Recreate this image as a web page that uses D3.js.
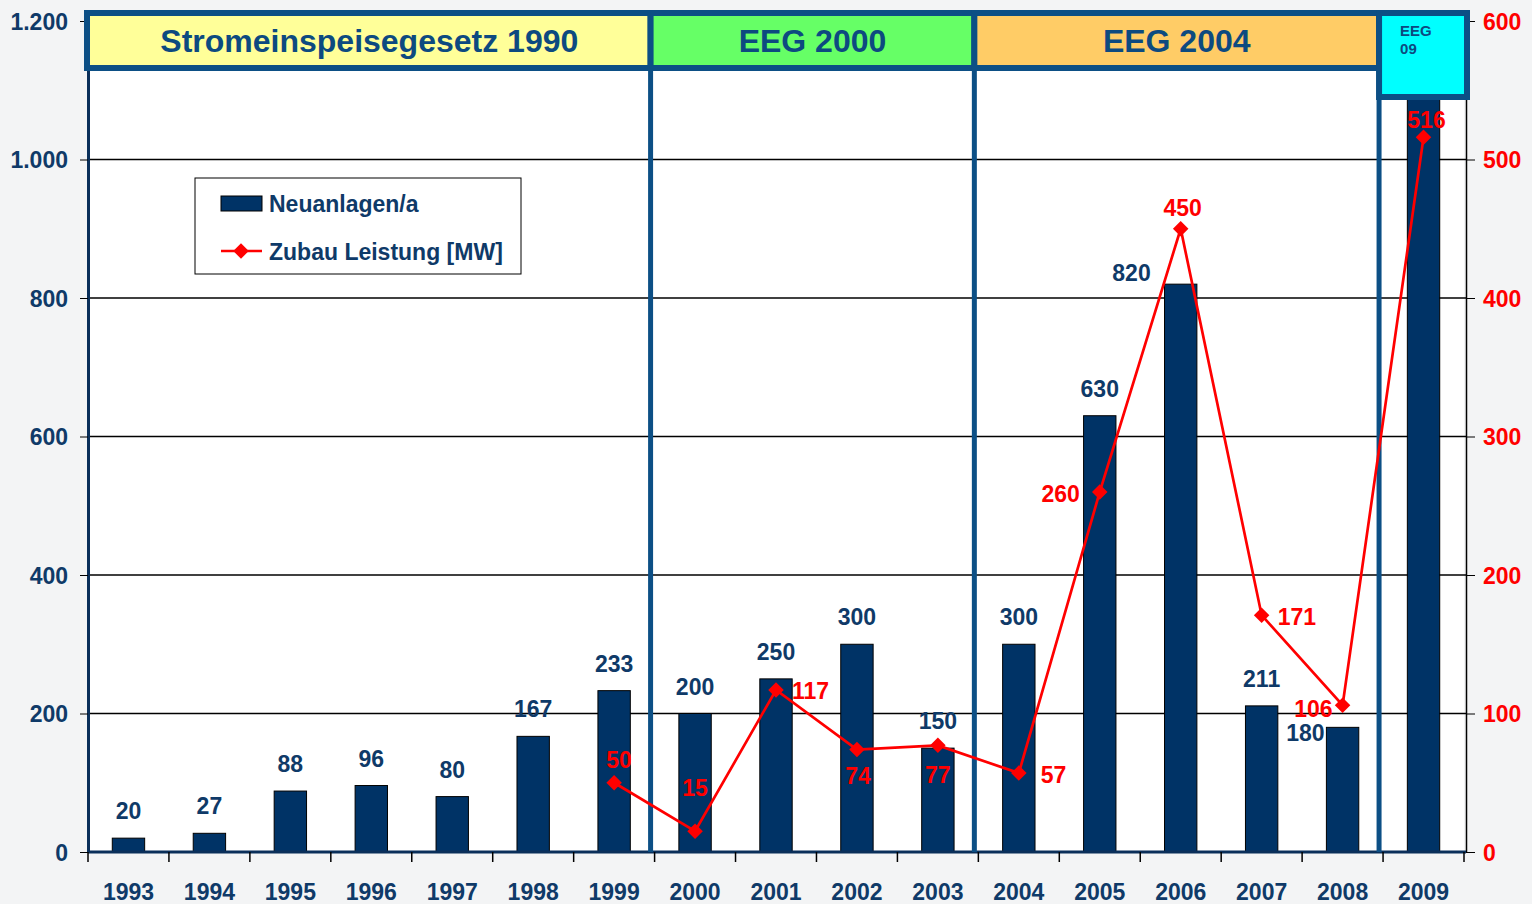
<!DOCTYPE html>
<html>
<head>
<meta charset="utf-8">
<script src="https://cdn.jsdelivr.net/npm/d3@7"></script>
<style>
  body { margin: 0; background: #f3f4f5; }
  svg { display: block; font-family: "Liberation Sans", Arial, sans-serif; font-weight: bold; }
</style>
</head>
<body>
<div id="chart"></div>
<script>
// data
var years = ["1993","1994","1995","1996","1997","1998","1999","2000","2001","2002","2003","2004","2005","2006","2007","2008","2009"];
var neuanlagen = [20, 27, 88, 96, 80, 167, 233, 200, 250, 300, 150, 300, 630, 820, 211, 180, 1100];
var neuLabels = ["20","27","88","96","80","167","233","200","250","300","150","300","630","820","211","180",""];
var zubau = [null, null, null, null, null, null, 50, 15, 117, 74, 77, 57, 260, 450, 171, 106, 516];
var leftTicks = [0, 200, 400, 600, 800, 1000, 1200];
var rightTicks = [0, 100, 200, 300, 400, 500, 600];
var periods = [
  {name: "Stromeinspeisegesetz 1990", from: "1993", to: "1999", fill: "#ffff99"},
  {name: "EEG 2000", from: "2000", to: "2003", fill: "#66ff66"},
  {name: "EEG 2004", from: "2004", to: "2008", fill: "#ffcc66"},
  {name: "EEG\n09", from: "2009", to: "2009", fill: "#00ffff"}
];

// label placement: [dx, dy, anchor] relative to bar top / point
var barLabelPos = [[0,-19,"middle"],[0,-19,"middle"],[0,-19,"middle"],[0,-19,"middle"],[0,-19,"middle"],[0,-19,"middle"],[0,-19,"middle"],
  [0,-19,"middle"],[0,-19,"middle"],[0,-19,"middle"],[0,-19,"middle"],[0,-19,"middle"],[0,-19,"middle"],[-30,-3,"end"],[0,-19,"middle"],[-18,14,"end"],[0,0,"middle"]];
var lineLabelPos = [null,null,null,null,null,null,[5,-15,"middle"],[0,-35,"middle"],[16,9,"start"],[1,34,"middle"],[0,38,"middle"],
  [22,10,"start"],[-20,10,"end"],[2,-13,"middle"],[16,10,"start"],[-10,12,"end"],[3,-9,"middle"]];

var width = 1532, height = 904;
var plotLeft = 88, plotRight = 1464, plotTop = 21, plotBottom = 852;
var navy = "#0f3a68", frameBlue = "#0c4f85", red = "#ff0000";

var svg = d3.select("#chart").append("svg").attr("width", width).attr("height", height);

var x = d3.scaleBand().domain(years).range([plotLeft, plotRight]);
var yL = d3.scaleLinear().domain([0, 1200]).range([plotBottom, plotTop]);
var yR = d3.scaleLinear().domain([0, 600]).range([plotBottom, plotTop]);
var de = d3.formatLocale({decimal: ",", thousands: ".", grouping: [3], currency: ["", ""]});
var fmt = de.format(",d");
var barW = x.bandwidth() * 0.4;

// plot background
svg.append("rect").attr("x", plotLeft).attr("y", plotTop).attr("width", plotRight - plotLeft).attr("height", plotBottom - plotTop).attr("fill", "#ffffff");

// gridlines
svg.append("g").selectAll("line").data(leftTicks.slice(1, -1)).enter().append("line")
  .attr("x1", plotLeft).attr("x2", plotRight + 2)
  .attr("y1", function (d) { return yL(d); }).attr("y2", function (d) { return yL(d); })
  .attr("stroke", "#000").attr("stroke-width", 1.5);

// bars
svg.append("g").selectAll("rect").data(neuanlagen).enter().append("rect")
  .attr("x", function (d, i) { return x(years[i]) + (x.bandwidth() - barW) / 2; })
  .attr("y", function (d) { return yL(d); })
  .attr("width", barW)
  .attr("height", function (d) { return plotBottom - yL(d); })
  .attr("fill", "#003366").attr("stroke", "#000").attr("stroke-width", 1);

// axes
var leftAxis = svg.append("g").attr("transform", "translate(" + plotLeft + ",0)")
  .call(d3.axisLeft(yL).tickValues(leftTicks).tickFormat(fmt).tickSize(8).tickSizeOuter(0).tickPadding(12));
leftAxis.select(".domain").attr("stroke", "#0a2f5a").attr("stroke-width", 3);
leftAxis.selectAll("text").attr("fill", navy).style("font-size", "23px").attr("dy", "0.35em");

var rightAxis = svg.append("g").attr("transform", "translate(" + (plotRight + 2) + ",0)")
  .call(d3.axisRight(yR).tickValues(rightTicks).tickSize(9).tickSizeOuter(0).tickPadding(8));
rightAxis.select(".domain").attr("stroke", "#000").attr("stroke-width", 1.5);
rightAxis.selectAll("text").attr("fill", red).style("font-size", "23px").attr("dy", "0.35em");

var bottomAxis = svg.append("g").attr("transform", "translate(0," + plotBottom + ")")
  .call(d3.axisBottom(x).tickSize(0).tickPadding(32));
bottomAxis.select(".domain").remove();
bottomAxis.selectAll("text").attr("fill", navy).style("font-size", "23px");
svg.append("line").attr("x1", plotLeft).attr("x2", plotRight + 2).attr("y1", plotBottom).attr("y2", plotBottom)
  .attr("stroke", "#0a2f5a").attr("stroke-width", 3);
svg.append("g").selectAll("line").data(years.concat(["end"])).enter().append("line")
  .attr("x1", function (d, i) { return plotLeft + i * x.step(); })
  .attr("x2", function (d, i) { return plotLeft + i * x.step(); })
  .attr("y1", plotBottom).attr("y2", plotBottom + 10)
  .attr("stroke", "#000").attr("stroke-width", 1.5);

// period separators
svg.append("g").selectAll("line").data(periods.slice(1)).enter().append("line")
  .attr("x1", function (d) { return x(d.from) - 4; }).attr("x2", function (d) { return x(d.from) - 4; })
  .attr("y1", 60).attr("y2", plotBottom)
  .attr("stroke", frameBlue).attr("stroke-width", 5);

// period header boxes
var hdr = svg.append("g").selectAll("g").data(periods).enter().append("g");
hdr.append("rect")
  .attr("x", function (d, i) { return i === 0 ? plotLeft - 1 : x(d.from) - 4; })
  .attr("y", 13)
  .attr("width", function (d, i) {
    var x0 = i === 0 ? plotLeft - 1 : x(d.from) - 4;
    var x1 = i === periods.length - 1 ? plotRight + 3 : x(periods[i + 1].from) - 4;
    return x1 - x0;
  })
  .attr("height", function (d, i) { return i === periods.length - 1 ? 84 : 55; })
  .attr("fill", function (d) { return d.fill; })
  .attr("stroke", frameBlue).attr("stroke-width", 6);
hdr.filter(function (d, i) { return i < periods.length - 1; }).append("text")
  .attr("x", function (d, i) {
    var x0 = i === 0 ? plotLeft : x(d.from) - 4;
    var x1 = x(periods[i + 1].from) - 4;
    return (x0 + x1) / 2;
  })
  .attr("y", 52).attr("text-anchor", "middle")
  .attr("fill", "#0d4a80").style("font-size", "32px")
  .text(function (d) { return d.name; });
var last = periods[periods.length - 1];
svg.append("text").attr("x", x(last.from) + 17).attr("y", 36)
  .attr("fill", "#0d4a80").style("font-size", "15px")
  .selectAll("tspan").data(last.name.split("\n")).enter().append("tspan")
  .attr("x", x(last.from) + 17).attr("dy", function (d, i) { return i === 0 ? 0 : 18; })
  .text(function (d) { return d; });

// bar labels
svg.append("g").selectAll("text").data(neuanlagen).enter().append("text")
  .attr("x", function (d, i) { return x(years[i]) + x.bandwidth() / 2 + barLabelPos[i][0]; })
  .attr("y", function (d, i) { return yL(d) + barLabelPos[i][1]; })
  .attr("text-anchor", function (d, i) { return barLabelPos[i][2]; })
  .attr("fill", navy).style("font-size", "23px")
  .text(function (d, i) { return neuLabels[i]; });

// line series
var pts = zubau.map(function (v, i) { return {year: years[i], v: v, i: i}; }).filter(function (d) { return d.v !== null; });
var line = d3.line()
  .x(function (d) { return x(d.year) + x.bandwidth() / 2; })
  .y(function (d) { return yR(d.v); });
svg.append("path").datum(pts).attr("d", line).attr("fill", "none").attr("stroke", red).attr("stroke-width", 2.7);
svg.append("g").selectAll("path").data(pts).enter().append("path")
  .attr("d", d3.symbol().type(d3.symbolSquare).size(120))
  .attr("transform", function (d) { return "translate(" + (x(d.year) + x.bandwidth() / 2) + "," + yR(d.v) + ") rotate(45)"; })
  .attr("fill", red);
svg.append("g").selectAll("text").data(pts).enter().append("text")
  .attr("x", function (d) { return x(d.year) + x.bandwidth() / 2 + lineLabelPos[d.i][0]; })
  .attr("y", function (d) { return yR(d.v) + lineLabelPos[d.i][1]; })
  .attr("text-anchor", function (d) { return lineLabelPos[d.i][2]; })
  .attr("fill", red).style("font-size", "23px")
  .text(function (d) { return d.v; });

// legend
var lg = svg.append("g").attr("transform", "translate(195,178)");
lg.append("rect").attr("width", 326).attr("height", 96).attr("fill", "#fff").attr("stroke", "#000").attr("stroke-width", 1);
lg.append("rect").attr("x", 26).attr("y", 18).attr("width", 41).attr("height", 15)
  .attr("fill", "#003366").attr("stroke", "#000").attr("stroke-width", 1);
lg.append("text").attr("x", 74).attr("y", 34).attr("fill", navy).style("font-size", "23px").text("Neuanlagen/a");
lg.append("line").attr("x1", 26).attr("x2", 67).attr("y1", 73).attr("y2", 73).attr("stroke", red).attr("stroke-width", 2.7);
lg.append("path").attr("d", d3.symbol().type(d3.symbolSquare).size(120)).attr("transform", "translate(46,73) rotate(45)").attr("fill", red);
lg.append("text").attr("x", 74).attr("y", 82).attr("fill", navy).style("font-size", "23px").text("Zubau Leistung [MW]");
</script>
</body>
</html>
